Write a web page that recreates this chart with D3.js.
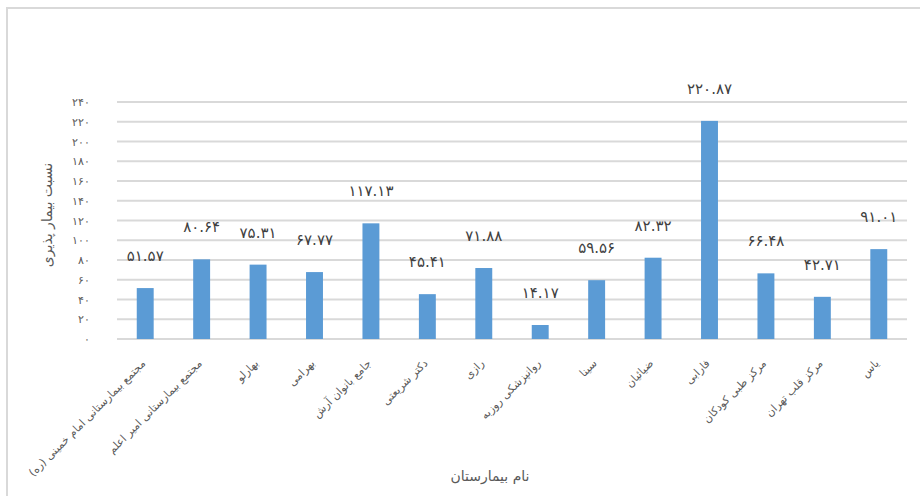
<!DOCTYPE html>
<html>
<head>
<meta charset="utf-8">
<script src="https://d3js.org/d3.v7.min.js"></script>
<style>
  body { margin: 0; background: #fff; }
  svg { display: block; font-family: "DejaVu Sans", sans-serif; }
</style>
</head>
<body>
<svg id="chart" width="920" height="496"></svg>
<script>
// hospital names and bed occupancy values
var hospitals = [
  "مجتمع بیمارستانی امام خمینی (ره)",
  "مجتمع بیمارستانی امیر اعلم",
  "بهارلو",
  "بهرامی",
  "جامع بانوان آرش",
  "دکتر شریعتی",
  "رازی",
  "روانپزشکی روزبه",
  "سینا",
  "ضیائیان",
  "فارابی",
  "مرکز طبی کودکان",
  "مرکز قلب تهران",
  "یاس"
];
var values = [51.57, 80.64, 75.31, 67.77, 117.13, 45.41, 71.88, 14.17, 59.56, 82.32, 220.87, 66.48, 42.71, 91.01];
var yTicks = [0, 20, 40, 60, 80, 100, 120, 140, 160, 180, 200, 220, 240];
var yTitle = "نسبت بیمار پذیری";
var xTitle = "نام بیمارستان";

var svg = d3.select("#chart");
var plotLeft = 117, plotRight = 907, plotTop = 102, plotBottom = 339;

// persian digits
function fa(s) {
  return String(s).replace(/[0-9]/g, function(c) { return "۰۱۲۳۴۵۶۷۸۹"[+c]; });
}

// outer frame
svg.append("rect")
   .attr("x", 7).attr("y", 8)
   .attr("width", 930).attr("height", 500)
   .attr("fill", "none")
   .attr("stroke", "#d9d9d9")
   .attr("stroke-width", 2);

var x = d3.scaleBand().domain(hospitals).range([plotLeft, plotRight]).paddingInner(0.7).paddingOuter(0.35);
var y = d3.scaleLinear().domain([0, 240]).range([plotBottom, plotTop]);

// gridlines
svg.append("g")
   .selectAll("line")
   .data(yTicks)
   .enter().append("line")
   .attr("x1", plotLeft).attr("x2", plotRight)
   .attr("y1", function(d) { return y(d); })
   .attr("y2", function(d) { return y(d); })
   .attr("stroke", "#d9d9d9")
   .attr("stroke-width", 2);

// y axis labels
var yAxis = d3.axisLeft(y).tickValues(yTicks).tickSize(0).tickPadding(27).tickFormat(fa);
svg.append("g")
   .attr("transform", "translate(" + plotLeft + ",0)")
   .call(yAxis)
   .call(function(g) { g.select(".domain").remove(); })
   .selectAll("text")
   .attr("fill", "#595959")
   .style("font-size", "11px");

// bars
svg.append("g")
   .selectAll("rect")
   .data(values)
   .enter().append("rect")
   .attr("x", function(d, i) { return x(hospitals[i]); })
   .attr("width", x.bandwidth())
   .attr("y", function(d) { return y(d); })
   .attr("height", function(d) { return y(0) - y(d); })
   .attr("fill", "#5b9bd5");

// data labels (sit about one gridline above the bar)
svg.append("g")
   .selectAll("text")
   .data(values)
   .enter().append("text")
   .attr("x", function(d, i) { return x(hospitals[i]) + x.bandwidth() / 2; })
   .attr("y", function(d) { return y(d) - 27; })
   .attr("text-anchor", "middle")
   .attr("fill", "#404040")
   .style("font-size", "15px")
   .text(function(d) { return fa(d.toFixed(2)); });

// x category labels, rotated
svg.append("g")
   .selectAll("text")
   .data(hospitals)
   .enter().append("text")
   .attr("transform", function(d) {
     return "translate(" + (x(d) + x.bandwidth() / 2 + 1) + "," + 364 + ") rotate(-45)";
   })
   .attr("text-anchor", "end")
   .attr("fill", "#595959")
   .style("font-size", "11px")
   .text(function(d) { return d; });

// axis titles
svg.append("text")
   .attr("transform", "translate(52,215) rotate(-90)")
   .attr("text-anchor", "middle")
   .attr("fill", "#595959")
   .style("font-size", "14px")
   .text(yTitle);

svg.append("text")
   .attr("x", 490).attr("y", 481)
   .attr("text-anchor", "middle")
   .attr("fill", "#595959")
   .style("font-size", "14px")
   .text(xTitle);
</script>
</body>
</html>
